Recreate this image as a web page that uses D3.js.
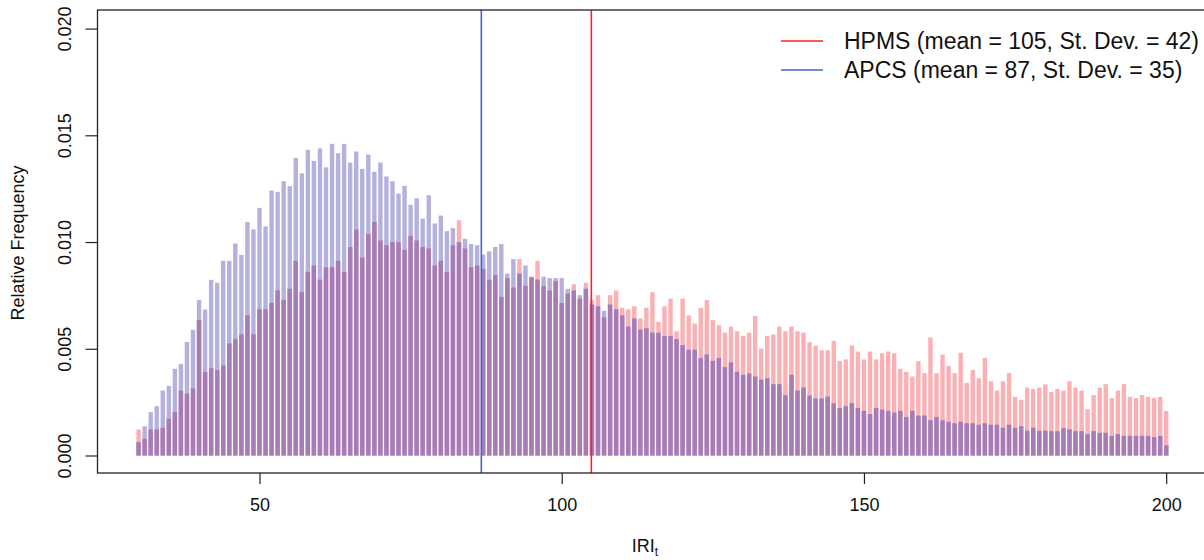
<!DOCTYPE html>
<html>
<head>
<meta charset="utf-8">
<script src="https://cdn.jsdelivr.net/npm/d3@7"></script>
<style>
  html, body { margin: 0; padding: 0; background: #fff; }
  svg { display: block; font-family: "Liberation Sans", Arial, sans-serif; }
</style>
</head>
<body>
<svg id="chart" width="1204" height="560"></svg>
<script>
// IRI values (one bar per integer from 30 to 200)
const iriStart = 30, iriEnd = 200;

// Relative frequency of each IRI value, HPMS data
const hpmsFreq = [
  0.00122, 0.00078, 0.00122, 0.00122, 0.00130, 0.00172, 0.00203, 0.00304, 0.00290, 0.00314,
  0.00635, 0.00392, 0.00409, 0.00400, 0.00422, 0.00525, 0.00546, 0.00568, 0.00657, 0.00568,
  0.00685, 0.00685, 0.00715, 0.00773, 0.00729, 0.00781, 0.00912, 0.00765, 0.00860, 0.00890,
  0.00824, 0.00882, 0.00882, 0.00912, 0.00860, 0.00977, 0.01059, 0.00927, 0.01037, 0.01094,
  0.01007, 0.00985, 0.00999, 0.00999, 0.00963, 0.01029, 0.01007, 0.00977, 0.00970, 0.00890,
  0.00912, 0.00860, 0.00985, 0.01102, 0.00970, 0.00882, 0.00890, 0.00874, 0.00824, 0.00846,
  0.00743, 0.00831, 0.00787, 0.00920, 0.00795, 0.00838, 0.00912, 0.00793, 0.00773, 0.00817,
  0.00714, 0.00759, 0.00802, 0.00735, 0.00809, 0.00728, 0.00751, 0.00648, 0.00751, 0.00773,
  0.00692, 0.00685, 0.00699, 0.00642, 0.00692, 0.00765, 0.00626, 0.00699, 0.00735, 0.00582,
  0.00735, 0.00656, 0.00618, 0.00692, 0.00728, 0.00634, 0.00610, 0.00575, 0.00604, 0.00582,
  0.00560, 0.00575, 0.00654, 0.00501, 0.00560, 0.00567, 0.00604, 0.00582, 0.00604, 0.00582,
  0.00575, 0.00531, 0.00515, 0.00493, 0.00493, 0.00537, 0.00443, 0.00450, 0.00515, 0.00487,
  0.00450, 0.00487, 0.00450, 0.00479, 0.00487, 0.00479, 0.00406, 0.00392, 0.00370, 0.00442,
  0.00386, 0.00553, 0.00386, 0.00473, 0.00420, 0.00386, 0.00481, 0.00340, 0.00400, 0.00362,
  0.00457, 0.00348, 0.00304, 0.00348, 0.00386, 0.00275, 0.00261, 0.00318, 0.00312, 0.00318,
  0.00333, 0.00298, 0.00312, 0.00304, 0.00348, 0.00318, 0.00304, 0.00217, 0.00283, 0.00318,
  0.00334, 0.00269, 0.00304, 0.00334, 0.00275, 0.00269, 0.00283, 0.00275, 0.00269, 0.00275,
  0.00209
];

// Relative frequency of each IRI value, APCS data
const apcsFreq = [
  0.00062, 0.00137, 0.00203, 0.00231, 0.00304, 0.00326, 0.00406, 0.00429, 0.00532, 0.00589,
  0.00729, 0.00684, 0.00823, 0.00809, 0.00912, 0.00912, 0.00993, 0.00940, 0.01094, 0.01059,
  0.01160, 0.01073, 0.01241, 0.01235, 0.01285, 0.01262, 0.01394, 0.01322, 0.01432, 0.01380,
  0.01439, 0.01350, 0.01460, 0.01416, 0.01460, 0.01372, 0.01424, 0.01343, 0.01410, 0.01329,
  0.01372, 0.01307, 0.01285, 0.01227, 0.01263, 0.01174, 0.01205, 0.01110, 0.01219, 0.01087,
  0.01124, 0.01051, 0.01065, 0.00999, 0.01015, 0.00991, 0.00985, 0.00941, 0.00956, 0.00977,
  0.00991, 0.00852, 0.00920, 0.00852, 0.00890, 0.00835, 0.00824, 0.00838, 0.00831, 0.00831,
  0.00831, 0.00781, 0.00773, 0.00751, 0.00781, 0.00707, 0.00699, 0.00678, 0.00707, 0.00685,
  0.00656, 0.00604, 0.00642, 0.00590, 0.00596, 0.00575, 0.00575, 0.00560, 0.00560, 0.00545,
  0.00517, 0.00495, 0.00495, 0.00457, 0.00473, 0.00443, 0.00457, 0.00414, 0.00436, 0.00392,
  0.00378, 0.00384, 0.00370, 0.00356, 0.00362, 0.00334, 0.00334, 0.00283, 0.00378, 0.00304,
  0.00318, 0.00281, 0.00267, 0.00267, 0.00275, 0.00245, 0.00223, 0.00231, 0.00245, 0.00223,
  0.00209, 0.00194, 0.00223, 0.00215, 0.00209, 0.00201, 0.00209, 0.00180, 0.00209, 0.00187,
  0.00187, 0.00165, 0.00180, 0.00165, 0.00158, 0.00151, 0.00158, 0.00151, 0.00151, 0.00144,
  0.00151, 0.00144, 0.00144, 0.00130, 0.00144, 0.00130, 0.00137, 0.00116, 0.00130, 0.00116,
  0.00116, 0.00114, 0.00114, 0.00128, 0.00122, 0.00114, 0.00114, 0.00100, 0.00114, 0.00106,
  0.00106, 0.00092, 0.00100, 0.00092, 0.00092, 0.00092, 0.00092, 0.00092, 0.00086, 0.00092,
  0.00048
];

// Summary statistics shown in the legend and as vertical lines
const seriesNames = ["HPMS", "APCS"];
const seriesMeans = [104.9, 86.7];
const seriesSDs = [42, 35];

const xTicks = [50, 100, 150, 200];
const yTicks = [0, 0.005, 0.010, 0.015, 0.020];

(function draw() {
  const svg = d3.select("#chart");
  const font = "'Liberation Sans', Arial, sans-serif";

  // plot region
  const pLeft = 97.5, pRight = 1207.3, pTop = 10, pBottom = 473;

  const x = d3.scaleLinear().domain([23.2, 206.8]).range([pLeft, pRight]);
  const y = d3.scaleLinear().domain([-0.00082, 0.02087]).range([pBottom, pTop]);

  const iri = d3.range(iriStart, iriEnd + 1);
  const hpms = iri.map((v, i) => ({ v, f: hpmsFreq[i] }));
  const apcs = iri.map((v, i) => ({ v, f: apcsFreq[i] }));
  // part shared by both distributions (translucent red under translucent blue)
  const shared = iri.map((v, i) => ({ v, f: Math.min(hpmsFreq[i], apcsFreq[i]) }));

  const barW = 4.4;
  const colors = {
    hpmsBar: "#fbb0b4",
    apcsBar: "#b4b2dc",
    sharedBar: "#a77cb6",
    hpmsLine: "#ff2020",
    apcsLine: "#4466cc"
  };

  const plot = svg.append("g");

  function drawBars(data, color) {
    plot.append("g")
      .selectAll("rect")
      .data(data)
      .join("rect")
      .attr("x", d => x(d.v) - barW / 2)
      .attr("width", barW)
      .attr("y", d => y(d.f))
      .attr("height", d => y(0) - y(d.f))
      .attr("fill", color);
  }

  drawBars(hpms, colors.hpmsBar);
  drawBars(apcs, colors.apcsBar);
  drawBars(shared, colors.sharedBar);

  // mean lines
  const lineColors = [colors.hpmsLine, colors.apcsLine];
  plot.append("g")
    .selectAll("line")
    .data(seriesMeans)
    .join("line")
    .attr("x1", d => x(d)).attr("x2", d => x(d))
    .attr("y1", pTop).attr("y2", pBottom)
    .attr("stroke", (d, i) => lineColors[i])
    .attr("stroke-width", 1.6);

  // frame
  svg.append("rect")
    .attr("x", pLeft).attr("y", pTop)
    .attr("width", pRight - pLeft).attr("height", pBottom - pTop)
    .attr("fill", "none").attr("stroke", "#222").attr("stroke-width", 1.3);

  // x axis
  const xAxis = d3.axisBottom(x).tickValues(xTicks).tickSize(11).tickPadding(14)
    .tickFormat(d3.format("d"));
  const gx = svg.append("g").attr("transform", `translate(0,${pBottom})`).call(xAxis);
  gx.select(".domain").remove();
  gx.selectAll(".tick line").attr("stroke", "#222").attr("stroke-width", 1.2);
  gx.selectAll(".tick text").attr("font-size", 18).attr("fill", "#111")
    .attr("font-family", font);

  // y axis
  const yAxis = d3.axisLeft(y).tickValues(yTicks).tickSize(12).tickPadding(0)
    .tickFormat(d3.format(".3f"));
  const gy = svg.append("g").attr("transform", `translate(${pLeft},0)`).call(yAxis);
  gy.select(".domain").remove();
  gy.selectAll(".tick line").attr("stroke", "#222").attr("stroke-width", 1.2);
  gy.selectAll(".tick text")
    .attr("font-size", 18).attr("fill", "#111")
    .attr("font-family", font)
    .attr("x", null).attr("dy", null)
    .attr("text-anchor", "middle")
    .attr("transform", "translate(-33,0) rotate(-90)")
    .attr("dominant-baseline", "central");

  // axis titles
  svg.append("text")
    .attr("transform", `translate(18,243) rotate(-90)`)
    .attr("text-anchor", "middle")
    .attr("dominant-baseline", "central")
    .attr("font-size", 18).attr("fill", "#111")
    .text("Relative Frequency");

  const xt = svg.append("text")
    .attr("x", 645).attr("y", 552)
    .attr("text-anchor", "middle")
    .attr("font-size", 18).attr("fill", "#111");
  xt.append("tspan").text("IRI");
  xt.append("tspan").attr("font-size", 12).attr("dy", 3.5).text("t");

  // legend
  const legend = svg.append("g");
  const legY = [41, 70];
  seriesNames.forEach((name, i) => {
    legend.append("line")
      .attr("x1", 781).attr("x2", 823)
      .attr("y1", legY[i]).attr("y2", legY[i])
      .attr("stroke", lineColors[i]).attr("stroke-width", 1.6);
    legend.append("text")
      .attr("x", 844).attr("y", legY[i])
      .attr("dominant-baseline", "central")
      .attr("font-size", 23).attr("fill", "#111")
      .text(`${name} (mean = ${Math.round(seriesMeans[i])}, St. Dev. = ${seriesSDs[i]})`);
  });
})();
</script>
</body>
</html>
